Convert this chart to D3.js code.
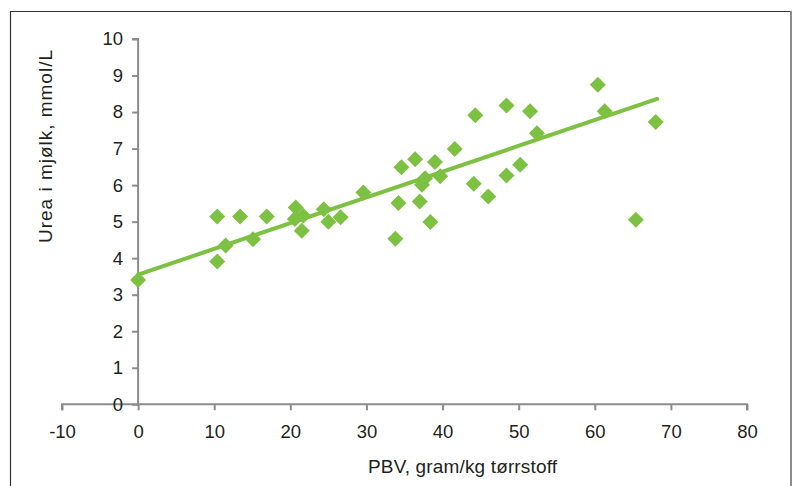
<!DOCTYPE html>
<html>
<head>
<meta charset="utf-8">
<script src="https://cdn.jsdelivr.net/npm/d3@7"></script>
<style>
  html, body { margin: 0; padding: 0; background: #fff; }
  svg { display: block; }
  text { font-family: "Liberation Sans", Arial, sans-serif; fill: #231f20; }
</style>
</head>
<body>
<svg id="chart" width="795" height="486"></svg>
<script>
// Data
const pbv  = [0, 10.4, 13.4, 16.9, 10.4, 11.5, 15.1, 20.7, 20.6, 21.7, 21.5, 24.4, 25.0, 26.6, 29.6,
              34.6, 36.4, 39.0, 41.6, 44.3, 48.4, 51.5, 52.4, 37.7, 37.3, 39.7, 34.2, 37.0, 38.4, 33.8,
              44.1, 46.0, 48.4, 50.2, 60.4, 61.3, 68.0, 65.4];
const urea = [3.4, 5.14, 5.14, 5.14, 3.91, 4.35, 4.52, 5.39, 5.07, 5.16, 4.75, 5.34, 5.0, 5.12, 5.80,
              6.49, 6.71, 6.63, 6.99, 7.91, 8.18, 8.02, 7.42, 6.19, 6.01, 6.24, 5.51, 5.55, 4.99, 4.53,
              6.04, 5.69, 6.26, 6.56, 8.75, 8.02, 7.73, 5.05];
// Linear trend line as drawn in the reference
const trendIntercept = 3.55;
const trendSlope = 0.0705;
const trendRange = [0, 68.2];
const xTicks = [-10, 0, 10, 20, 30, 40, 50, 60, 70, 80];
const yTicks = [0, 1, 2, 3, 4, 5, 6, 7, 8, 9, 10];
const xTitle = "PBV, gram/kg tørrstoff";
const yTitle = "Urea i mjølk, mmol/L";

const svg = d3.select("#chart");
const green = "#7dc142";
const axisColor = "#8c8c8c";
const textColor = "#231f20";

// frame
svg.append("line").attr("x1", 10.5).attr("x2", 10.5).attr("y1", 11).attr("y2", 486)
  .attr("stroke", "#333").attr("stroke-width", 1.2);
svg.append("line").attr("x1", 10).attr("x2", 791).attr("y1", 11.5).attr("y2", 11.5)
  .attr("stroke", "#333").attr("stroke-width", 1.2);
svg.append("line").attr("x1", 791).attr("x2", 791).attr("y1", 11).attr("y2", 486)
  .attr("stroke", "#8c8c8c").attr("stroke-width", 2);

const x = d3.scaleLinear().domain([-10, 80]).range([62, 747]);
const y = d3.scaleLinear().domain([0, 10]).range([404.3, 39]);

// x axis
const gx = svg.append("g").attr("transform", `translate(0,${y(0)})`)
  .call(d3.axisBottom(x).tickValues(xTicks).tickSize(6).tickPadding(15).tickFormat(d => String(d)));
// y axis
const gy = svg.append("g").attr("transform", `translate(${x(0)},0)`)
  .call(d3.axisLeft(y).tickValues(yTicks).tickSize(6).tickPadding(9).tickFormat(d => String(d)));

[gx, gy].forEach(g => {
  g.select(".domain").attr("stroke", axisColor).attr("stroke-width", 2);
  g.selectAll(".tick line").attr("stroke", axisColor).attr("stroke-width", 2);
  g.selectAll(".tick text").attr("font-size", 18.5).attr("fill", textColor)
    .attr("font-family", "'Liberation Sans', Arial, sans-serif");
});
gx.select(".domain").attr("d", `M${x(-10)},6V0H${x(80)}V6`);
gy.select(".domain").attr("d", `M-6,${y(10)}H0V${y(0)}`);

// trend line
svg.append("line")
  .attr("x1", x(trendRange[0])).attr("y1", y(trendIntercept + trendSlope*trendRange[0]))
  .attr("x2", x(trendRange[1])).attr("y2", y(trendIntercept + trendSlope*trendRange[1]))
  .attr("stroke", green).attr("stroke-width", 4).attr("stroke-linecap", "round");

// points
const diamond = d3.symbol().type(d3.symbolSquare).size(128);
svg.append("g").selectAll("path").data(d3.range(pbv.length)).join("path")
  .attr("d", diamond)
  .attr("transform", i => `translate(${x(pbv[i])},${y(urea[i])}) rotate(45)`)
  .attr("fill", green);

// titles
svg.append("text").attr("x", 462.5).attr("y", 473).attr("text-anchor", "middle")
  .attr("font-size", 19).attr("textLength", 189).attr("lengthAdjust", "spacing").text(xTitle);
svg.append("text").attr("transform", `translate(51.5,146.5) rotate(-90)`).attr("text-anchor", "middle")
  .attr("font-size", 19).attr("textLength", 193).attr("lengthAdjust", "spacing").text(yTitle);
</script>
</body>
</html>
